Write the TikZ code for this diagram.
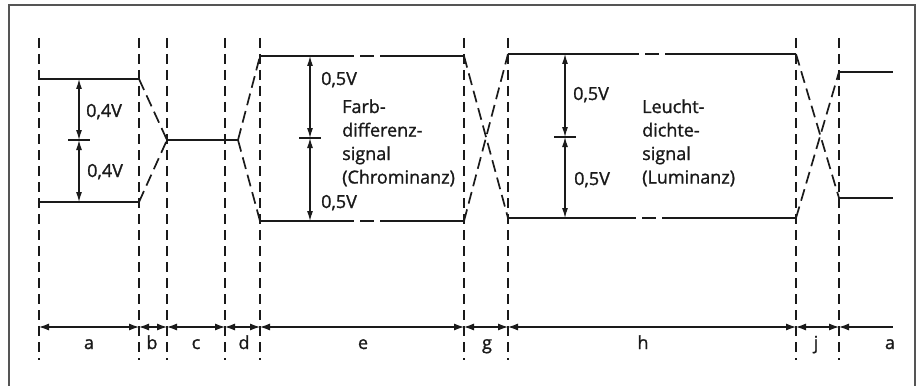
\documentclass[tikz,border=0pt]{standalone}
\usepackage{fontspec}
\setmainfont{Open Sans}
\newfontfamily\labfont{Open Sans}[RawFeature={embolden=1.2}]
\usetikzlibrary{arrows.meta}
\definecolor{ink}{HTML}{1A1A1A}
\definecolor{framec}{HTML}{555555}
\begin{document}
\begin{tikzpicture}[x=1pt,y=-1pt,
  divider/.style={draw=ink,line width=1.4pt,dash pattern=on 10pt off 6pt},
  sig/.style={draw=ink,line width=2.2pt},
  sigdash/.style={draw=ink,line width=2.2pt,dash pattern=on 14pt off 6pt},
  trans/.style={draw=ink,line width=1.7pt,dash pattern=on 12pt off 6pt},
  dim/.style={draw=ink,line width=1.1pt,arrows={Latex[length=10pt,width=7pt]-Latex[length=10pt,width=7pt]}},
  dimleft/.style={draw=ink,line width=1.1pt,arrows={Latex[length=10pt,width=7pt]-}},
  volt/.style={draw=ink,line width=1.1pt,arrows={Latex[length=10pt,width=6pt]-Latex[length=10pt,width=6pt]}},
  tick/.style={draw=ink,line width=1.4pt},
  lab/.style={inner sep=0pt,anchor=base west,text=ink,font=\labfont\fontsize{18}{22}\selectfont},
  letter/.style={inner sep=0pt,anchor=base,text=ink,font=\labfont\fontsize{18}{22}\selectfont}]
\useasboundingbox[fill=white] (0,0) rectangle (917,385);
% frame
\coordinate (fr1) at (9,388);
\coordinate (fr2) at (9,5);
\coordinate (fr3) at (915,5);
\coordinate (fr4) at (915,388);
\draw[framec,line width=1.5pt] (fr1) -- (fr2) -- (fr3) -- (fr4);
% dividers
\foreach \n/\x in {1/39,2/139,3/167,4/225,5/260,6/464,7/508,8/796,9/839}{
  \coordinate (t\n) at (\x,38);
  \coordinate (b\n) at (\x,360);
  \coordinate (d\n) at (\x,327);
  \draw[divider] (t\n) -- (b\n);
}
\coordinate (dE) at (893,327);
% dimension line
\draw[dim] (d1) -- (d2);
\draw[dim] (d2) -- (d3);
\draw[dim] (d3) -- (d4);
\draw[dim] (d4) -- (d5);
\draw[dim] (d5) -- (d6);
\draw[dim] (d6) -- (d7);
\draw[dim] (d7) -- (d8);
\draw[dim] (d8) -- (d9);
\draw[dimleft] (d9) -- (dE);
% signal: segment a
\coordinate (aH) at (39,79);  \coordinate (bH) at (139,79);
\coordinate (aL) at (39,202); \coordinate (bL) at (139,202);
\coordinate (cM) at (167,140); \coordinate (cE) at (238,140);
\draw[sig] (aH) -- (bH);
\draw[sig] (aL) -- (bL);
\draw[sig] (cM) -- (cE);
\draw[trans] (bH) -- (cM);
\draw[trans] (bL) -- (cM);
% chrominance e
\coordinate (eH0) at (260,56); \coordinate (eH1) at (340,56); \coordinate (eH2) at (388,56); \coordinate (eH3) at (464,56);
\coordinate (eL0) at (260,221); \coordinate (eL1) at (340,221); \coordinate (eL2) at (386,221); \coordinate (eL3) at (464,221);
\draw[trans] (cE) -- (eH0);
\draw[trans] (cE) -- (eL0);
\draw[sig] (eH0) -- (eH1);
\draw[sigdash] (eH1) -- (eH2);
\draw[sig] (eH2) -- (eH3);
\draw[sig] (eL0) -- (eL1);
\draw[sigdash] (eL1) -- (eL2);
\draw[sig] (eL2) -- (eL3);
% luminance h
\coordinate (hH0) at (508,54); \coordinate (hH1) at (625,54); \coordinate (hH2) at (675,54); \coordinate (hH3) at (796,54);
\coordinate (hL0) at (508,218); \coordinate (hL1) at (622,218); \coordinate (hL2) at (672,218); \coordinate (hL3) at (796,218);
\draw[trans] (eH3) -- (hL0);
\draw[trans] (eL3) -- (hH0);
\draw[sig] (hH0) -- (hH1);
\draw[sigdash] (hH1) -- (hH2);
\draw[sig] (hH2) -- (hH3);
\draw[sig] (hL0) -- (hL1);
\draw[sigdash] (hL1) -- (hL2);
\draw[sig] (hL2) -- (hL3);
% final a
\coordinate (kH0) at (839,72); \coordinate (kH1) at (893,72);
\coordinate (kL0) at (839,198); \coordinate (kL1) at (893,198);
\draw[trans] (hH3) -- (kL0);
\draw[trans] (hL3) -- (kH0);
\draw[sig] (kH0) -- (kH1);
\draw[sig] (kL0) -- (kL1);
% voltage arrows
\coordinate (va1) at (79,79); \coordinate (va2) at (79,140); \coordinate (va3) at (79,202);
\coordinate (vaL) at (68,140); \coordinate (vaR) at (90,140);
\draw[volt] (va1) -- (va2);
\draw[volt] (va2) -- (va3);
\draw[tick] (vaL) -- (vaR);
\coordinate (ve1) at (310,56); \coordinate (ve2) at (310,138); \coordinate (ve3) at (310,221);
\coordinate (veL) at (299,138); \coordinate (veR) at (321,138);
\draw[volt] (ve1) -- (ve2);
\draw[volt] (ve2) -- (ve3);
\draw[tick] (veL) -- (veR);
\coordinate (vh1) at (565,54); \coordinate (vh2) at (565,137); \coordinate (vh3) at (565,218);
\coordinate (vhL) at (554,137); \coordinate (vhR) at (576,137);
\draw[volt] (vh1) -- (vh2);
\draw[volt] (vh2) -- (vh3);
\draw[tick] (vhL) -- (vhR);
% labels
\node[lab] (la1) at (86,117) {0,4V};
\node[lab] (la2) at (87,177) {0,4V};
\node[lab] (le1) at (321,85) {0,5V};
\node[lab] (le2) at (321,208) {0,5V};
\node[lab] (lh1) at (573,100) {0,5V};
\node[lab] (lh2) at (574,185) {0,5V};
\node[lab] (c1) at (342,113) {Farb-};
\node[lab] (c2) at (342,136.5) {differenz-};
\node[lab] (c3) at (342,160) {signal};
\node[lab] (c4) at (342,183.5) {(Chrominanz)};
\node[lab] (l1) at (642,113) {Leucht-};
\node[lab] (l2) at (642,136.5) {dichte-};
\node[lab] (l3) at (642,160) {signal};
\node[lab] (l4) at (642,183.5) {(Luminanz)};
% segment letters
\node[letter] (sa) at (89,349) {a};
\node[letter] (sb) at (152,349) {b};
\node[letter] (sc) at (196,349) {c};
\node[letter] (sd) at (244,349) {d};
\node[letter] (se) at (363,349) {e};
\node[letter] (sg) at (487,349) {g};
\node[letter] (sh) at (643,349) {h};
\node[letter] (sj) at (816,349) {j};
\node[letter] (sa2) at (890,349) {a};
\end{tikzpicture}
\end{document}
